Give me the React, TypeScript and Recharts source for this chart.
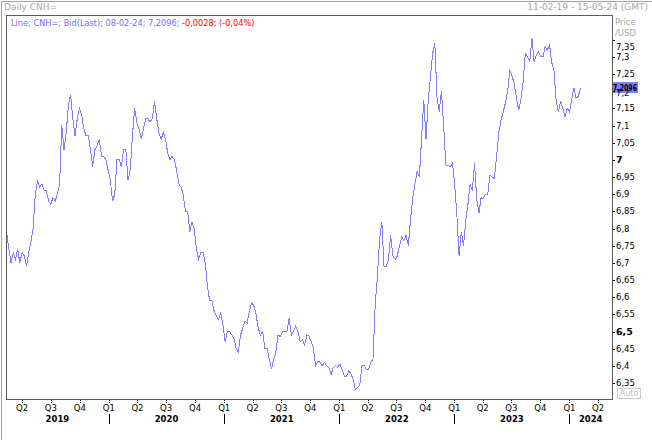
import React from "react";
import { LineChart, Line, XAxis, YAxis, ReferenceLine } from "recharts";

// weekly CNH= closes (Mon)
const cnh2019 = [
  6.79, 6.74, 6.70, 6.73, 6.71, 6.74, 6.70, 6.73, 6.72, 6.69,
  6.73, 6.76, 6.80, 6.90, 6.94, 6.92, 6.93, 6.91, 6.91, 6.88,
  6.87, 6.89, 6.88, 6.90, 6.93, 7.10, 7.03, 7.08, 7.16, 7.19,
  7.12, 7.07, 7.12, 7.15, 7.13, 7.09, 7.07, 7.07, 7.03, 6.98,
  7.03, 7.04, 7.06, 7.01, 7.01, 7.00, 6.97,
];
const cnh2020 = [
  6.94, 6.88, 6.90, 7.00, 7.00, 6.98, 7.03, 7.03, 6.94, 6.97,
  7.07, 7.15, 7.11, 7.09, 7.06, 7.09, 7.12, 7.12, 7.11, 7.12,
  7.17, 7.12, 7.08, 7.06, 7.08, 7.06, 7.02, 7.00, 7.01, 7.00,
  6.97, 6.93, 6.92, 6.90, 6.85, 6.85, 6.79, 6.82, 6.80, 6.74,
  6.71, 6.73, 6.73, 6.70, 6.63, 6.59, 6.59, 6.56, 6.545, 6.535,
  6.555, 6.52,
];
const cnh2021 = [
  6.47, 6.50, 6.50, 6.49, 6.48, 6.45, 6.44, 6.49, 6.51, 6.53,
  6.525, 6.56, 6.584, 6.575, 6.55, 6.51, 6.49, 6.50, 6.45, 6.45,
  6.42, 6.39, 6.42, 6.44, 6.49, 6.485, 6.50, 6.50, 6.50, 6.54,
  6.49, 6.50, 6.516, 6.50, 6.47, 6.477, 6.46, 6.49, 6.487, 6.47,
  6.45, 6.40, 6.414, 6.41, 6.40, 6.41, 6.40, 6.395, 6.375, 6.395,
  6.40, 6.395,
];
const cnh2022 = [
  6.405, 6.39, 6.37, 6.37, 6.385, 6.378, 6.36, 6.332, 6.336, 6.345,
  6.40, 6.40, 6.39, 6.39, 6.41, 6.42, 6.58, 6.66, 6.77, 6.82,
  6.69, 6.69, 6.71, 6.78, 6.72, 6.71, 6.72, 6.75, 6.775, 6.765,
  6.78, 6.75, 6.826, 6.89, 6.93, 6.966, 6.95, 7.06, 7.174, 7.06,
  7.17, 7.24, 7.31, 7.34, 7.184, 7.14, 7.20, 7.10, 6.985, 6.983,
  6.98, 6.99,
];
const cnh2023 = [
  6.93, 6.84, 6.72, 6.79, 6.75, 6.82, 6.87, 6.93, 6.91, 6.99,
  6.885, 6.845, 6.89, 6.888, 6.90, 6.90, 6.955, 6.95, 6.945, 7.01,
  7.08, 7.115, 7.14, 7.166, 7.20, 7.26, 7.245, 7.22, 7.18, 7.145,
  7.175, 7.225, 7.31, 7.30, 7.285, 7.355, 7.285, 7.305, 7.315, 7.30,
  7.30, 7.33, 7.32, 7.335, 7.283, 7.26, 7.17, 7.14, 7.172, 7.15,
  7.125, 7.15,
];
const cnh2024 = [7.14, 7.175, 7.21, 7.18, 7.185, 7.2096];

const priceTicks = [
  6.35, 6.4, 6.45, 6.5, 6.55, 6.6, 6.65, 6.7, 6.75, 6.8, 6.85,
  6.9, 6.95, 7, 7.05, 7.1, 7.15, 7.2, 7.25, 7.3, 7.35,
];
const boldTicks = [6.5, 7];
const quarterNames = ["Q1", "Q2", "Q3", "Q4"];
const years = [2019, 2020, 2021, 2022, 2023, 2024];
const lastValue = 7.2096;

const DAY = 86400000;
const firstDate = Date.UTC(2019, 1, 11);
const domainStart = Date.UTC(2019, 1, 9);
const domainEnd = Date.UTC(2024, 4, 15);

const values = [...cnh2019, ...cnh2020, ...cnh2021, ...cnh2022, ...cnh2023, ...cnh2024];
const data = values.map((v, i) => ({ t: firstDate + i * 7 * DAY, v }));

const quarterTicks: number[] = [];
years.forEach((y) =>
  [0, 3, 6, 9].forEach((m) => {
    const t = Date.UTC(y, m, 1);
    if (t > domainStart && t < domainEnd) quarterTicks.push(t);
  })
);
const yearLabels = new Map<number, number>();
years.forEach((y) => {
  const a = Math.max(Date.UTC(y, 0, 1), domainStart);
  const b = Math.min(Date.UTC(y + 1, 0, 1), domainEnd);
  yearLabels.set((a + b) / 2, y);
});

const FONT = "'DejaVu Sans', Tahoma, sans-serif";
const GRAY = "#a8a8a8";

const XTick = (props: any) => {
  const { x, payload } = props;
  const v = payload.value;
  const px = Math.round(x) + 0.5;
  if (yearLabels.has(v)) {
    return (
      <text x={x} y={422} textAnchor="middle" fontFamily={FONT} fontSize={8.5} fontWeight="bold" fill="#000">
        {yearLabels.get(v)}
      </text>
    );
  }
  const q = Math.floor(new Date(v).getUTCMonth() / 3);
  return (
    <g>
      <line x1={px} x2={px} y1={400} y2={404} stroke="#000" strokeDasharray="1 1" />
      <text x={x} y={411} textAnchor="middle" fontFamily={FONT} fontSize={8.5} fill="#000">
        {quarterNames[q]}
      </text>
      {q === 0 && <line x1={px} x2={px} y1={414} y2={424} stroke="#000" />}
    </g>
  );
};

const YTick = (props: any) => {
  const { y, payload } = props;
  const v = payload.value;
  const py = Math.round(y) + 0.5;
  const bold = boldTicks.includes(v);
  const shift = v === 7.35 ? 7 : v === 7.2 ? 2 : 0;
  return (
    <g>
      <line x1={612} x2={615} y1={py} y2={py} stroke="#000" />
      <text
        x={616}
        y={y + 3 + shift}
        fontFamily={FONT}
        fontSize={bold ? 9.5 : 8.5}
        fontWeight={bold ? "bold" : "normal"}
        fill="#000"
      >
        {String(v).replace(".", ",")}
      </text>
    </g>
  );
};

const ValueBadge = (props: any) => {
  const { viewBox } = props;
  const x = viewBox.x + viewBox.width;
  const y = viewBox.y;
  return (
    <g>
      <rect x={x} y={Math.round(y) - 6} width={26} height={11} fill="#8080ff" />
      <text
        x={x + 1}
        y={y + 3}
        fontFamily={FONT}
        fontSize={8.5}
        fontWeight="bold"
        fill="#000"
        textLength={24}
        lengthAdjust="spacingAndGlyphs"
      >
        {String(lastValue).replace(".", ",")}
      </text>
    </g>
  );
};

export default function App() {
  return (
    <div
      style={{
        position: "absolute",
        left: 0,
        top: 0,
        width: 652,
        height: 440,
        background: "#fff",
        fontFamily: FONT,
        overflow: "hidden",
      }}
    >
      <div style={{ position: "absolute", left: 1, top: 1, right: 0, bottom: 0, borderLeft: "1px solid #a0a0a0", borderTop: "1px solid #a0a0a0" }} />
      <div style={{ position: "absolute", left: 4, top: 2, fontSize: 9, color: GRAY }}>Daily CNH=</div>
      <div style={{ position: "absolute", right: 4, top: 2, fontSize: 9, color: GRAY }}>11-02-19 - 15-05-24 (GMT)</div>
      <div style={{ position: "absolute", left: 615, top: 17, fontSize: 8.5, color: GRAY, lineHeight: "11px" }}>
        Price
        <br />
        /USD
      </div>
      <LineChart width={652} height={440} data={data} margin={{ top: 15, right: 0, bottom: 0, left: 6 }}>
        <XAxis
          type="number"
          dataKey="t"
          domain={[domainStart, domainEnd]}
          ticks={[...quarterTicks, ...yearLabels.keys()]}
          interval={0}
          tick={<XTick />}
          axisLine={false}
          tickLine={false}
          height={40}
          allowDataOverflow
        />
        <YAxis
          type="number"
          orientation="right"
          domain={[6.3005, 7.4219]}
          ticks={priceTicks}
          interval={0}
          tick={<YTick />}
          axisLine={false}
          tickLine={false}
          width={40}
          allowDataOverflow
        />
        <ReferenceLine y={lastValue} stroke="none" label={<ValueBadge />} />
        <Line
          type="linear"
          dataKey="v"
          stroke="#7f7fff"
          strokeWidth={1}
          dot={false}
          shapeRendering="crispEdges"
          isAnimationActive={false}
        />
      </LineChart>
      <div
        style={{
          position: "absolute",
          left: 6,
          top: 15,
          width: 607,
          height: 385,
          boxSizing: "border-box",
          border: "1px solid #5a5a5a",
          pointerEvents: "none",
        }}
      />
      <div style={{ position: "absolute", left: 11, top: 18, fontSize: 8.2, color: "#7070f0", whiteSpace: "nowrap" }}>
        Line; CNH=; Bid(Last); 08-02-24; 7,2096; <span style={{ color: "#ff0000" }}>-0,0028; (-0,04%)</span>
      </div>
      <div
        style={{
          position: "absolute",
          left: 617,
          top: 388,
          width: 24,
          height: 11,
          boxSizing: "border-box",
          border: "1px solid #c8c8c8",
          fontSize: 8,
          lineHeight: "9px",
          color: "#c0c0c0",
          textAlign: "center",
        }}
      >
        Auto
      </div>
    </div>
  );
}
